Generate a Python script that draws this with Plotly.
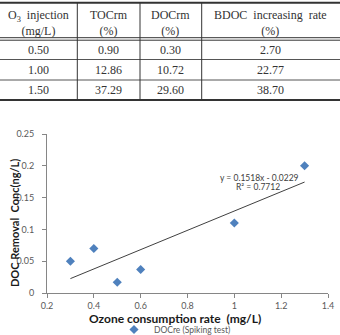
import plotly.graph_objects as go

# ---------------- data ----------------
table_header = ["O<sub>3</sub>  injection<br>(mg/L)", "TOCrm<br>(%)", "DOCrm<br>(%)", "BDOC  increasing  rate<br>(%)"]
o3_injection = ["0.50", "1.00", "1.50"]
toc_rm = ["0.90", "12.86", "37.29"]
doc_rm = ["0.30", "10.72", "29.60"]
bdoc_rate = ["2.70", "22.77", "38.70"]

ozone_rate = [0.3, 0.4, 0.5, 0.6, 1.0, 1.3]
doc_removal = [0.05, 0.07, 0.017, 0.037, 0.11, 0.2]
trend_slope = 0.1518
trend_intercept = -0.0229
trend_r2 = 0.7712
trend_x = [min(ozone_rate), max(ozone_rate)]

x_ticks = [0.2, 0.4, 0.6, 0.8, 1.0, 1.2, 1.4]
y_ticks = [0, 0.05, 0.1, 0.15, 0.2, 0.25]
x_title = "Ozone consumption rate  (mg/L)"
y_title = "DOC Removal  Conc(ng/L)"

# ---------------- layout helpers ----------------
W, H = 340, 335
ML, MR, MT, MB = 47, 12, 134, 42
PW, PH = W - ML - MR, H - MT - MB


def px(x):
    return (x - ML) / PW


def py(y):
    return (H - MB - y) / PH


fig = go.Figure()

fig.add_trace(go.Scatter(
    x=ozone_rate, y=doc_removal, mode="markers",
    marker=dict(symbol="diamond", size=7, color="#4F81BD"),
    name="DOCre (Spiking test)", showlegend=True,
))
fig.add_trace(go.Scatter(
    x=trend_x, y=[trend_slope * v + trend_intercept for v in trend_x],
    mode="lines", line=dict(color="#404040", width=1), showlegend=False,
    hoverinfo="skip",
))

sans = "Lato, Open Sans, sans-serif"
axis_common = dict(
    showgrid=False, zeroline=False, showline=True, linecolor="#868686", linewidth=1,
    ticks="outside", ticklen=4, tickcolor="#868686",
    tickfont=dict(family=sans, size=9, color="#595959"),
)
fig.update_xaxes(range=[0.2, 1.4], tickvals=x_ticks, ticktext=[f"{v:g}" for v in x_ticks],
                 **axis_common)
fig.update_yaxes(range=[0, 0.25], tickvals=y_ticks, ticktext=[f"{v:g}" for v in y_ticks],
                 ticklabelstandoff=6, **axis_common)

# axis titles
fig.add_annotation(x=px(175), y=py(318), xref="paper", yref="paper", showarrow=False,
                   xanchor="center", yanchor="middle", text=f"<b>{x_title}</b>",
                   font=dict(family=sans, size=12, color="#1a1a1a"))
fig.add_annotation(x=px(14), y=py(223), xref="paper", yref="paper", showarrow=False,
                   xanchor="center", yanchor="middle", textangle=-90, text=f"<b>{y_title}</b>",
                   font=dict(family=sans, size=11, color="#1a1a1a"))

# trendline equation
fig.add_annotation(x=px(259), y=py(177.5), xref="paper", yref="paper", showarrow=False,
                   xanchor="center", yanchor="middle",
                   text=f"y = {trend_slope}x - {abs(trend_intercept)}",
                   font=dict(family=sans, size=8.5, color="#404040"))
fig.add_annotation(x=px(258), y=py(187), xref="paper", yref="paper", showarrow=False,
                   xanchor="center", yanchor="middle",
                   text=f"R² = {trend_r2}",
                   font=dict(family=sans, size=8.5, color="#404040"))

# ---------------- table ----------------
col_edges = [0, 77.3, 140, 201.7, 340]
row_y_header = 22.5
row_y_data = [50, 70, 90]
line_dark = "#333333"
line_gray = "#555555"
shapes = []


def hline(y, w, color):
    shapes.append(dict(type="line", xref="paper", yref="paper",
                       x0=px(0), x1=px(340), y0=py(y), y1=py(y),
                       line=dict(color=color, width=w)))


hline(2.7, 2, line_dark)
hline(37.7, 1, line_dark)
hline(40.2, 1, line_dark)
hline(59.5, 1, line_gray)
hline(80, 1, line_gray)
hline(100, 2, line_dark)
for cx in col_edges[1:-1]:
    shapes.append(dict(type="line", xref="paper", yref="paper",
                       x0=px(cx), x1=px(cx), y0=py(2.7), y1=py(100),
                       line=dict(color=line_dark, width=1)))
fig.update_layout(shapes=shapes)

tfont = dict(family="Liberation Serif, DejaVu Serif, serif", size=12, color="#333333")
centers = [(col_edges[i] + col_edges[i + 1]) / 2 for i in range(4)]
for c, txt in zip(centers, table_header):
    fig.add_annotation(x=px(c), y=py(row_y_header), xref="paper", yref="paper",
                       xanchor="center", yanchor="middle",
                       showarrow=False, text=txt, font=tfont)
columns = [o3_injection, toc_rm, doc_rm, bdoc_rate]
for c, col in zip(centers, columns):
    for ry, val in zip(row_y_data, col):
        fig.add_annotation(x=px(c), y=py(ry), xref="paper", yref="paper",
                           xanchor="center", yanchor="middle",
                           showarrow=False, text=val, font=tfont)

fig.update_layout(
    width=W, height=H, margin=dict(l=ML, r=MR, t=MT, b=MB, autoexpand=False),
    paper_bgcolor="white", plot_bgcolor="white",
    legend=dict(orientation="h", x=px(114), y=py(329.5), xanchor="left", yanchor="middle",
                font=dict(family=sans, size=8.5, color="#595959"),
                bgcolor="rgba(0,0,0,0)", itemwidth=30),
    showlegend=True,
)

fig.write_html("out.html")
